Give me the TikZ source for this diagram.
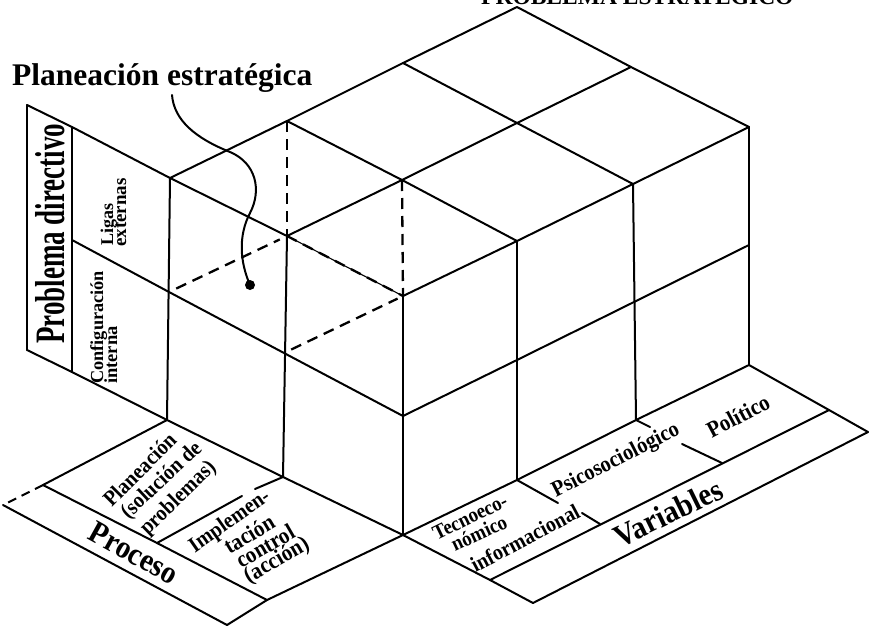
\documentclass[tikz,border=0pt]{standalone}
\usepackage{fontspec}
\setmainfont{Liberation Serif}
\newcommand\lblsize[1]{\fontsize{#1}{#1}\selectfont}
% tall bold lettering used on the floor strips
\newcommand\floortext[2]{\scalebox{1}[1.1]{\lblsize{#1}#2}}
\begin{document}
\begin{tikzpicture}[x=1pt,y=-1pt,
  edge/.style={line width=2pt,line cap=round,line join=round},
  fine/.style={line width=1.1pt},
  hidden/.style={line width=2.3pt,dash pattern=on 11pt off 7pt},
  gapdash/.style={line width=2pt,dash pattern=on 9pt off 6pt},
  lbl/.style={inner sep=0pt,font=\bfseries},
]
\useasboundingbox (0,0) rectangle (869,626);
\clip (0,0) rectangle (869,626);

% ---- points of the block: top layer (T), middle level (M), floor (B)
\coordinate (T00) at (170,178); \coordinate (T10) at (287,236); \coordinate (T20) at (403,296);
\coordinate (T01) at (287,121); \coordinate (T11) at (402,180); \coordinate (T21) at (517,241);
\coordinate (T02) at (403,63);  \coordinate (T12) at (517,123); \coordinate (T22) at (633,184);
\coordinate (T03) at (517,7);   \coordinate (T13) at (631,67);  \coordinate (T23) at (749,127);
\coordinate (M00) at (169,292); \coordinate (M10) at (284,353); \coordinate (M20) at (403,416);
\coordinate (M21) at (517,360); \coordinate (M22) at (634,302); \coordinate (M23) at (749,245);
\coordinate (B00) at (167,420); \coordinate (B10) at (283,477); \coordinate (B20) at (403,535);
\coordinate (B21) at (517,480); \coordinate (B22) at (636,420); \coordinate (B23) at (749,365);
% ---- wall of the "Problema directivo" axis
\coordinate (WTo) at (27,105); \coordinate (WTi) at (72,127); \coordinate (WMi) at (72,240);
\coordinate (WBo) at (27,350); \coordinate (WBi) at (72,372);
% ---- floor strip of the "Proceso" axis
\coordinate (P0a) at (43,485); \coordinate (P0b) at (3,505);
\coordinate (P1a) at (157,543); \coordinate (P2a) at (267,600); \coordinate (P2b) at (227,625);
\coordinate (G1) at (255,489); \coordinate (G2) at (242,496);
% ---- floor strip of the "Variables" axis
\coordinate (V2a) at (490,580); \coordinate (V2b) at (533,603);
\coordinate (V3a) at (829,410); \coordinate (V3b) at (868,432);
\coordinate (VA) at (558,503); \coordinate (VB) at (582,513); \coordinate (V1a) at (600,524);
\coordinate (VC) at (650,427); \coordinate (VD) at (682,444); \coordinate (V2x) at (722,463);

% ---- top face
\draw[edge] (T00) -- (T01) -- (T02) -- (T03) -- (T13) -- (T23);
\draw[edge] (T01) -- (T11) -- (T21);
\draw[edge] (T02) -- (T12) -- (T22);
\draw[edge] (T00) -- (T10);
\draw[edge] (T10) -- (T11) -- (T12) -- (T13);
\draw[edge] (T20) -- (T21) -- (T22) -- (T23);
\draw[fine] (T10) -- (T20);

% ---- front faces
\draw[edge] (T00) -- (B00);
\draw[edge] (T10) -- (B10);
\draw[edge] (T20) -- (B20);
\draw[edge] (T21) -- (B21);
\draw[edge] (T22) -- (B22);
\draw[edge] (T23) -- (B23);
\draw[edge] (WMi) -- (M00) -- (M10) -- (M20) -- (M21) -- (M22) -- (M23);
\draw[edge] (WBo) -- (WBi) -- (B00) -- (B10) -- (B20) -- (B21) -- (B22) -- (B23);

% ---- wall
\draw[edge] (WTo) -- (WBo);
\draw[edge] (WTi) -- (WBi);
\draw[edge] (WTo) -- (WTi) -- (T00);

% ---- hidden edges of the highlighted cell
\draw[hidden] (T01) -- (T10);
\draw[hidden] (T11) -- (T20);
\draw[hidden] (T10) -- (T20);
\draw[hidden,shorten <=8pt,shorten >=8pt] (M00) -- (T10);
\draw[hidden,shorten <=8pt,shorten >=6pt] (M10) -- (T20);

% ---- Proceso floor strip
\draw[edge] (B00) -- (P0a);
\draw[gapdash] (P0a) -- (P0b);
\draw[edge] (P0a) -- (P1a) -- (P2a);
\draw[edge] (P0b) -- (P2b);
\draw[edge] (B20) -- (P2a) -- (P2b);
\draw[edge] (B10) -- (G1);
\draw[edge] (G2) -- (P1a);

% ---- Variables floor strip
\draw[edge] (B20) -- (V2a) -- (V2b);
\draw[edge] (V2a) -- (V3a);
\draw[edge] (V2b) -- (V3b);
\draw[edge] (B23) -- (V3a) -- (V3b);
\draw[edge] (B21) -- (VA);
\draw[edge] (VB) -- (V1a);
\draw[edge] (B22) -- (VC);
\draw[edge] (VD) -- (V2x);

% ---- headings
\node[lbl,anchor=base west] (title) at (12,85) {\lblsize{31.5}Planeación estratégica};
\node[lbl,anchor=base west] (heading) at (481,5) {\lblsize{23.5}PROBLEMA ESTRATÉGICO};

% ---- leader from the heading to the highlighted cell
\coordinate (lblfoot) at (172,95);
\node[circle,fill,inner sep=0pt,minimum size=10pt] (dot) at (250,285) {};
\draw[line width=2pt,line cap=round] (lblfoot) .. controls (174,120) and (195,138) .. (230,152)
  .. controls (256,163) and (262,190) .. (250,213)
  .. controls (238,236) and (240,262) .. (dot.center);

% ---- wall labels
\node[lbl,anchor=base west,rotate=90] (pdir) at (64,344) {\scalebox{1}[1.55]{\lblsize{27}Problema directivo}};
\node[lbl,anchor=base west,rotate=90] (ligas) at (113,246) {\lblsize{18}Ligas};
\node[lbl,anchor=base west,rotate=90] (ext) at (126,247) {\lblsize{19}externas};
\node[lbl,anchor=base west,rotate=90] (conf) at (103,384) {\lblsize{18.3}Configuración};
\node[lbl,anchor=base west,rotate=90] (inte) at (117,384) {\lblsize{18.5}interna};

% ---- Proceso labels
\node[lbl,rotate=45] (pl1) at (139.5,469.5) {\floortext{20}{Planeación}};
\node[lbl,rotate=43] (pl2) at (162,481) {\floortext{20}{(solución de}};
\node[lbl,rotate=44] (pl3) at (178.5,498.5) {\floortext{20}{problemas)}};
\node[lbl,rotate=35] (im1) at (230,522) {\floortext{20}{Implemen-}};
\node[lbl,rotate=31] (im2) at (249,534) {\floortext{21}{tación}};
\node[lbl,rotate=30] (im3) at (265,546) {\floortext{21}{control}};
\node[lbl,rotate=30] (im4) at (277,561) {\floortext{21}{(acción)}};
\node[lbl,rotate=-29] (proc) at (134,553) {\floortext{29}{Proceso}};

% ---- Variables labels
\node[lbl,rotate=26] (te1) at (470,517) {\floortext{19}{Tecnoeco-}};
\node[lbl,rotate=25] (te2) at (479,533) {\floortext{19}{nómico}};
\node[lbl,rotate=28] (te3) at (525,538) {\floortext{20}{informacional}};
\node[lbl,rotate=27] (psi) at (616,461) {\floortext{20.5}{Psicosociológico}};
\node[lbl,rotate=28] (pol) at (738,416) {\floortext{21}{Político}};
\node[lbl,rotate=26] (var) at (668,513) {\floortext{29}{Variables}};
\end{tikzpicture}
\end{document}
